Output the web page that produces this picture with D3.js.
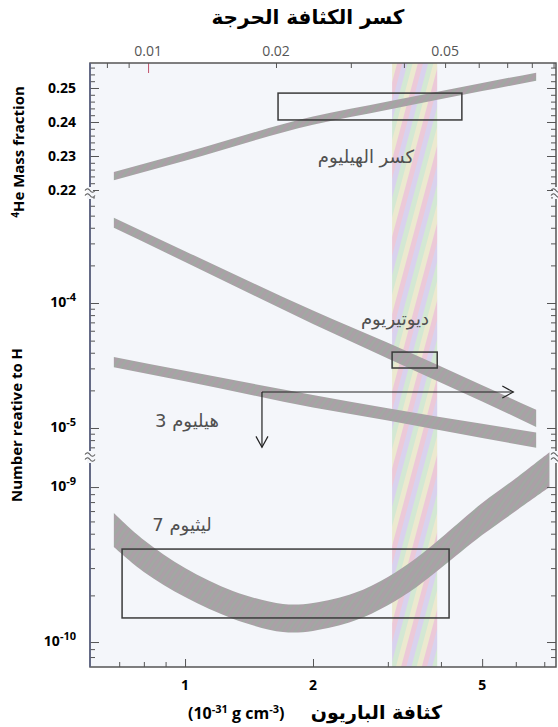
<!DOCTYPE html>
<html>
<head>
<meta charset="utf-8">
<script src="https://cdn.jsdelivr.net/npm/d3@7"></script>
<style>
  body { margin: 0; background: #fff; }
  svg text { font-family: "Open Sans", "DejaVu Sans", sans-serif; }
  .ar { font-family: "DejaVu Sans", sans-serif; }
</style>
</head>
<body>
<div id="chart"></div>
<script>
// ---- data ----
// baryon density (10^-31 g cm^-3) sample points of the bands
var bandX = [0.68, 1.0, 2.0, 3.0, 5.0, 6.7];
var heLow  = [0.2229, 0.2286, 0.2392, 0.2436, 0.2491, 0.2521];
var heHigh = [0.2253, 0.2310, 0.2416, 0.2460, 0.2515, 0.2545];
var dLow   = [4.0e-4, 2.13e-4, 6.8e-5, 3.6e-5, 1.63e-5, 1.02e-5];
var dHigh  = [4.8e-4, 2.6e-4, 8.7e-5, 4.8e-5, 2.2e-5, 1.4e-5];
var he3Low  = [3.06e-5, 2.37e-5, 1.46e-5, 1.15e-5, 8.3e-6, 6.95e-6];
var he3High = [3.7e-5, 2.87e-5, 1.84e-5, 1.44e-5, 1.08e-5, 9.2e-6];

var liX    = [0.68, 0.8, 1.0, 1.3, 1.7, 2.0, 2.5, 3.0, 3.5, 4.0, 5.0, 6.0, 7.2];
var liHigh = [6.80e-10, 4.55e-10, 3.00e-10, 2.13e-10, 1.76e-10, 1.785e-10, 2.07e-10, 2.63e-10, 3.48e-10, 4.69e-10, 7.88e-10, 1.14e-9, 1.68e-9];
var liLow  = [4.10e-10, 2.83e-10, 1.95e-10, 1.41e-10, 1.16e-10, 1.18e-10, 1.37e-10, 1.73e-10, 2.26e-10, 3.00e-10, 4.90e-10, 7.00e-10, 1.0e-9];

// observational boxes and the allowed density strip
var heBox = { x: [1.655, 4.48], y: [0.2406, 0.2485] };
var dBox  = { x: [3.07, 3.92], y: [3.02e-5, 4.05e-5] };
var liBox = { x: [0.711, 4.18], y: [1.43e-10, 3.98e-10] };
var strip = [3.07, 3.92];
// helium-3 limit: horizontal arrow and downward arrow
var he3Limit = { y: 1.94e-5, x: [1.517, 5.92], yDown: 7.0e-6 };

// ticks
var bottomTicks = [0.7, 0.8, 0.9, 1, 2, 3, 4, 5, 6, 7];
var bottomLabels = [1, 2, 5];
var topTicks = [0.008, 0.009, 0.01, 0.02, 0.03, 0.04, 0.05, 0.06, 0.07, 0.08, 0.09];
var topLabels = ["0.01", "0.02", "0.05"];
var heTicks = d3.range(0.220, 0.2571, 0.002);
var heLabels = [0.25, 0.24, 0.23, 0.22];
var midLabels = [-4, -5];
var lowLabels = [-9, -10];

// ---- layout ----
var W = 558, H = 727;
var L = 90, R = 556, T = 63, B = 667;
var brk1 = 193, brk2 = 457;

var svg = d3.select("#chart").append("svg")
  .attr("width", W).attr("height", H);

var x = d3.scaleLog().domain([0.5976, 7.46]).range([L, R]);
var xTop = d3.scaleLog().domain([0.0073, 0.0912]).range([L, R]);
var yHe = d3.scaleLinear().domain([0.21912, 0.25735]).range([brk1, T]);
var yMid = d3.scaleLog().domain([5.86e-6, 7.59e-4]).range([brk2, brk1]);
var yLow = d3.scaleLog().domain([6.9e-11, 1.563e-9]).range([B, brk2]);

var defs = svg.append("defs");

// pastel moire stripes for the density strip
var sp = defs.append("pattern").attr("id", "stripPat")
  .attr("patternUnits", "userSpaceOnUse").attr("width", 20).attr("height", 20)
  .attr("patternTransform", "rotate(15)");
var stripCols = ["#ecc9d8", "#d9d2ee", "#d3e8d3", "#ece9cf"];
stripCols.forEach(function(c, i) {
  sp.append("rect").attr("x", i * 5).attr("y", 0).attr("width", 5).attr("height", 20).attr("fill", c);
});

// grey band with faint colour fringes
var bp = defs.append("pattern").attr("id", "bandPat")
  .attr("patternUnits", "userSpaceOnUse").attr("width", 6).attr("height", 6)
  .attr("patternTransform", "rotate(35)");
bp.append("rect").attr("width", 6).attr("height", 6).attr("fill", "#a7a2a5");
bp.append("rect").attr("x", 0).attr("width", 2).attr("height", 6).attr("fill", "#ad9fa8");
bp.append("rect").attr("x", 3).attr("width", 2).attr("height", 6).attr("fill", "#a0a9a2");

defs.append("clipPath").attr("id", "plotClip")
  .append("rect").attr("x", L).attr("y", T).attr("width", R - L).attr("height", B - T);

// plot background
svg.append("rect").attr("x", L).attr("y", T).attr("width", R - L).attr("height", B - T)
  .attr("fill", "#f4f6fa");

var plot = svg.append("g").attr("clip-path", "url(#plotClip)");

// density strip
plot.append("rect")
  .attr("x", x(strip[0])).attr("y", T)
  .attr("width", x(strip[1]) - x(strip[0])).attr("height", B - T)
  .attr("fill", "url(#stripPat)");

// bands
function band(xs, lo, hi, ys, curve) {
  var pts = xs.map(function(v, i) { return { x: v, lo: lo[i], hi: hi[i] }; });
  var area = d3.area()
    .x(function(d) { return x(d.x); })
    .y0(function(d) { return ys(d.lo); })
    .y1(function(d) { return ys(d.hi); })
    .curve(curve || d3.curveMonotoneX);
  plot.append("path").datum(pts).attr("d", area)
    .attr("fill", "url(#bandPat)");
}
band(bandX, heLow, heHigh, yHe);
band(bandX, dLow, dHigh, yMid);
band(bandX, he3Low, he3High, yMid);
band(liX, liLow, liHigh, yLow, d3.curveCatmullRom);

// boxes
function box(b, ys) {
  plot.append("rect")
    .attr("x", x(b.x[0])).attr("y", ys(b.y[1]))
    .attr("width", x(b.x[1]) - x(b.x[0])).attr("height", ys(b.y[0]) - ys(b.y[1]))
    .attr("fill", "none").attr("stroke", "#3a3a3a").attr("stroke-width", 1.5);
}
box(heBox, yHe);
box(dBox, yMid);
box(liBox, yLow);

// helium-3 arrows
var ay = yMid(he3Limit.y), ax0 = x(he3Limit.x[0]), ax1 = x(he3Limit.x[1]), ayd = yMid(he3Limit.yDown);
var arr = plot.append("g").attr("stroke", "#222").attr("stroke-width", 1.2).attr("fill", "none");
arr.append("line").attr("x1", ax0).attr("y1", ay).attr("x2", ax1).attr("y2", ay);
arr.append("path").attr("d", "M" + (ax1 - 11) + "," + (ay - 6) + "L" + ax1 + "," + ay + "L" + (ax1 - 11) + "," + (ay + 6));
arr.append("line").attr("x1", ax0).attr("y1", ay).attr("x2", ax0).attr("y2", ayd);
arr.append("path").attr("d", "M" + (ax0 - 6) + "," + (ayd - 11) + "L" + ax0 + "," + ayd + "L" + (ax0 + 6) + "," + (ayd - 11));

// series labels (Arabic)
var lab = svg.append("g").attr("fill", "#505050").attr("font-size", 18);
lab.append("text").attr("class", "ar").attr("x", 366).attr("y", 163).attr("text-anchor", "middle").text("كسر الهيليوم");
lab.append("text").attr("class", "ar").attr("x", 395).attr("y", 325).attr("text-anchor", "middle").text("ديوتيريوم");
lab.append("text").attr("class", "ar").attr("x", 187).attr("y", 427).attr("text-anchor", "middle").text("هيليوم 3");
lab.append("text").attr("class", "ar").attr("x", 182).attr("y", 531).attr("text-anchor", "middle").text("ليثيوم 7");

// ---- axes ----
function styleAxis(g) {
  g.select(".domain").remove();
  g.selectAll("line").attr("stroke", "#555").attr("stroke-width", 1);
}
// bottom
svg.append("g").attr("transform", "translate(0," + B + ")")
  .call(d3.axisBottom(x).tickValues(bottomTicks).tickFormat("")
    .tickSize(-5)).call(styleAxis)
  .selectAll("line").attr("y2", function(d) { return bottomLabels.indexOf(d) >= 0 ? -8 : -5; });
// top
svg.append("g").attr("transform", "translate(0," + T + ")")
  .call(d3.axisTop(xTop).tickValues(topTicks).tickFormat("").tickSize(-5)).call(styleAxis)
  .selectAll("line")
  .attr("y2", function(d) { return d === 0.01 ? 10 : 5; })
  .attr("stroke", function(d) { return d === 0.01 ? "#c0506a" : "#555"; });

// left & right, per panel
var midTicks = yMid.ticks().filter(function(v) { return yMid(v) > brk1 + 2 && yMid(v) < brk2 - 2; });
var lowTicks = yLow.ticks().filter(function(v) { return yLow(v) > brk2 + 2 && yLow(v) < B - 2; });
function isDecade(v) { var l = Math.log10(v); return Math.abs(l - Math.round(l)) < 1e-6; }
function isHeMajor(v) { return Math.abs(v * 100 - Math.round(v * 100)) < 1e-6; }

[[yHe, heTicks, isHeMajor], [yMid, midTicks, isDecade], [yLow, lowTicks, isDecade]].forEach(function(p) {
  svg.append("g").attr("transform", "translate(" + L + ",0)")
    .call(d3.axisLeft(p[0]).tickValues(p[1]).tickFormat("").tickSize(-5)).call(styleAxis)
    .selectAll("line").attr("x2", function(d) { return p[2](d) ? 9 : 5; });
  svg.append("g").attr("transform", "translate(" + R + ",0)")
    .call(d3.axisRight(p[0]).tickValues(p[1]).tickFormat("").tickSize(-5)).call(styleAxis)
    .selectAll("line").attr("x2", function(d) { return p[2](d) ? -9 : -5; });
});

// frame
svg.append("rect").attr("x", L).attr("y", T).attr("width", R - L).attr("height", B - T)
  .attr("fill", "none").attr("stroke", "#555").attr("stroke-width", 1.5);
svg.append("line").attr("x1", L).attr("x2", L).attr("y1", T).attr("y2", B)
  .attr("stroke", "#5d6488").attr("stroke-width", 1.5);

// axis break marks
[brk1, brk2].forEach(function(by) {
  [L, R].forEach(function(bx) {
    svg.append("rect").attr("x", bx - 3).attr("y", by - 6).attr("width", 6).attr("height", 12).attr("fill", "#f4f6fa");
    [-2.5, 2.5].forEach(function(o) {
      svg.append("path")
        .attr("d", "M" + (bx - 5) + "," + (by + o) + "q2.5,-3.5 5,0 t5,0")
        .attr("fill", "none").attr("stroke", "#555").attr("stroke-width", 1.1);
    });
  });
});

// ---- tick labels ----
svg.append("g").selectAll("text").data(bottomLabels).enter().append("text")
  .attr("x", function(d) { return x(d); }).attr("y", 690)
  .attr("text-anchor", "middle").attr("font-weight", 700).attr("font-size", 14)
  .text(function(d) { return d; });

svg.append("g").selectAll("text").data(topLabels).enter().append("text")
  .attr("x", function(d) { return xTop(+d); }).attr("y", 56)
  .attr("text-anchor", "middle").attr("font-size", 14).attr("fill", "#555")
  .text(function(d) { return d; });

svg.append("g").selectAll("text").data(heLabels).enter().append("text")
  .attr("x", 76).attr("y", function(d) { return yHe(d) + 5; })
  .attr("text-anchor", "end").attr("font-weight", 700).attr("font-size", 14)
  .text(function(d) { return d.toFixed(2); });

function powLabel(scale, exps) {
  var t = svg.append("g").selectAll("text").data(exps).enter().append("text")
    .attr("x", 76).attr("y", function(d) { return scale(Math.pow(10, d)) + 4; })
    .attr("text-anchor", "end").attr("font-weight", 700).attr("font-size", 14);
  t.append("tspan").text("10");
  t.append("tspan").attr("dy", -6).attr("font-size", 11).text(function(d) { return "-" + Math.abs(d); });
}
powLabel(yMid, midLabels);
powLabel(yLow, lowLabels);

// ---- axis titles ----
svg.append("text").attr("class", "ar")
  .attr("x", 308).attr("y", 24).attr("text-anchor", "middle")
  .attr("font-weight", 700).attr("font-size", 20).text("كسر الكثافة الحرجة");

svg.append("text").attr("class", "ar")
  .attr("x", 442).attr("y", 719).attr("text-anchor", "end")
  .attr("font-weight", 700).attr("font-size", 19).text("كثافة الباريون");
var unit = svg.append("text").attr("x", 188).attr("y", 719)
  .attr("font-weight", 700).attr("font-size", 16);
unit.append("tspan").text("(10");
unit.append("tspan").attr("dy", -6).attr("font-size", 11).text("-31");
unit.append("tspan").attr("dy", 6).text(" g  cm");
unit.append("tspan").attr("dy", -6).attr("font-size", 11).text("-3");
unit.append("tspan").attr("dy", 6).text(")");

var yt1 = svg.append("text")
  .attr("transform", "translate(24,152) rotate(-90)").attr("text-anchor", "middle")
  .attr("font-weight", 700).attr("font-size", 15);
yt1.append("tspan").attr("dy", -5).attr("font-size", 10).text("4");
yt1.append("tspan").attr("dy", 5).text("He Mass fraction");

svg.append("text")
  .attr("transform", "translate(22,425) rotate(-90)").attr("text-anchor", "middle")
  .attr("font-weight", 700).attr("font-size", 15).text("Number reative to H");
</script>
</body>
</html>
